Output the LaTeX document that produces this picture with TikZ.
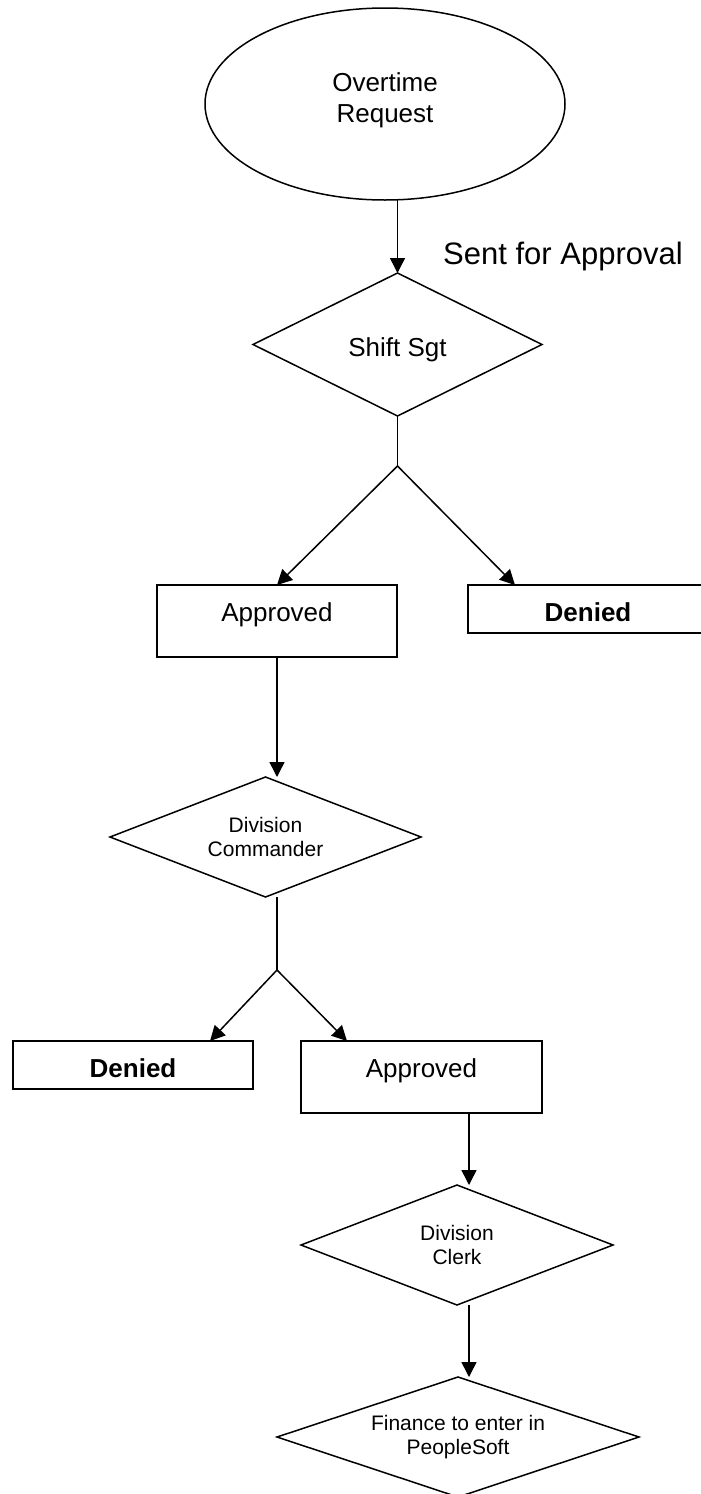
\documentclass[tikz,border=0pt]{standalone}
\usepackage{fontspec}
\setmainfont{Liberation Sans}
\usetikzlibrary{shapes.geometric,arrows.meta,calc}
\begin{document}
\begin{tikzpicture}[x=1pt,y=-1pt,
  line width=1.5pt,
  base/.style={draw=black,line width=1.5pt,inner sep=0pt,outer sep=0pt,align=center},
  fbig/.style={font=\fontsize{26}{31}\selectfont},
  fsmall/.style={font=\fontsize{21}{24}\selectfont},
  oval/.style={base,ellipse,minimum width=360pt,minimum height=192pt,fbig,text depth=12pt},
  dia/.style={base,diamond,fsmall},
  tallbox/.style={base,rectangle,minimum width=240pt,minimum height=72pt,fbig,text height=19pt,text depth=18pt},
  flatbox/.style={base,rectangle,minimum width=240pt,minimum height=48pt,font=\fontsize{26}{31}\selectfont\bfseries,text height=25pt,text depth=0pt},
  arr/.style={-{Triangle[length=15pt,width=15pt]}},
]
\useasboundingbox[fill=white] (0,0) rectangle (701,1494);
\clip (0,0) rectangle (701,1494);

\node[oval] (ot) at (385,104) {Overtime\\Request};
\node[font=\fontsize{31}{36}\selectfont,inner sep=0pt] (sent) at (563,256) {Sent for Approval};
\node[dia,fbig,aspect=2,minimum width=289pt,minimum height=143pt,text height=24pt,text depth=0pt] (sg) at (397.5,344.5) {Shift Sgt};
\coordinate (j1) at (397.5,466);
\node[tallbox] (a1) at (277,621) {Approved};
\node[flatbox] (d1) at (588,609) {Denied};
\node[dia,aspect=2.6,minimum width=311pt,minimum height=120pt] (dc) at (265.5,837) {Division\\Commander};
\coordinate (j2) at (277,970);
\node[flatbox] (d2) at (133,1065) {Denied};
\node[tallbox,minimum width=241pt] (a2) at (421.5,1077) {Approved};
\node[dia,aspect=2.6,minimum width=312pt,minimum height=120pt] (clerk) at (457,1245) {Division\\Clerk};
\node[dia,aspect=3.05,minimum width=362pt,minimum height=120pt] (fin) at (458,1437) {Finance to enter in\\PeopleSoft};

\coordinate (a2out) at ([xshift=168pt]a2.south west);

\draw[arr] (ot.south -| sg.north) -- (sg.north);
\draw (sg.south) -- (j1);
\draw[arr] (j1) -- (a1.north);
\draw[arr] (j1) -- ([xshift=47pt]d1.north west);
\draw[arr] (a1.south) -- (a1.south |- dc.north);
\draw (dc.south -| j2) -- (j2);
\draw[arr] (j2) -- ([xshift=-43pt]d2.north east);
\draw[arr] (j2) -- ([xshift=46pt]a2.north west);
\draw[arr] (a2out) -- (a2out |- clerk.north);
\draw[arr] (clerk.south -| a2out) -- (fin.north -| a2out);
\end{tikzpicture}
\end{document}
